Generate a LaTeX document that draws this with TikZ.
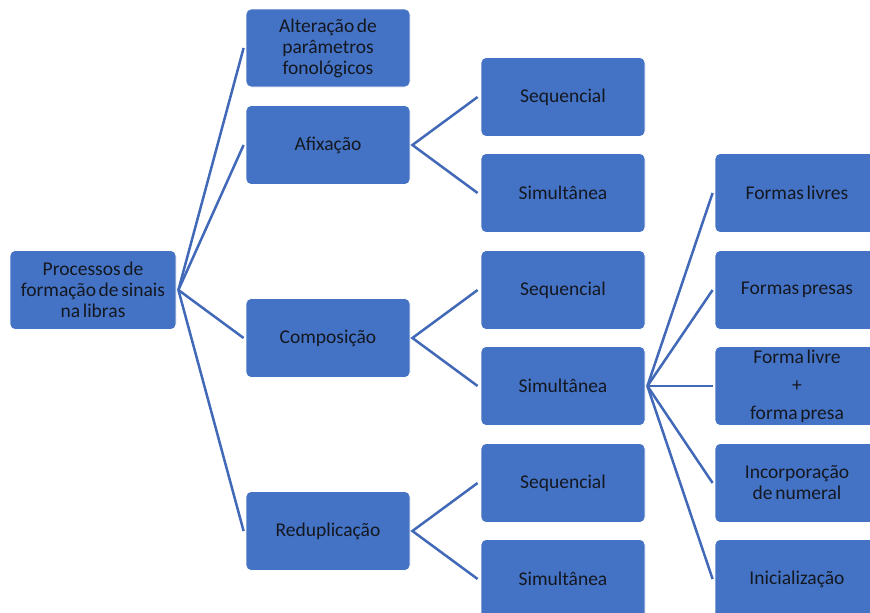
\documentclass[tikz,border=0pt]{standalone}
\usepackage{fontspec}
\setmainfont[WordSpace=0.6]{Carlito}
\definecolor{boxblue}{HTML}{4472C4}
\definecolor{lineblue}{HTML}{4169B8}
\definecolor{txt}{HTML}{141820}
\tikzset{
  box/.style={draw=white, line width=0.8pt, fill=boxblue, rounded corners=5pt,
    minimum width=164pt, minimum height=79pt, inner sep=2pt, align=flush center,
    text=txt, font=\fontsize{19.5}{21}\selectfont, text width=156pt},
  conn/.style={draw=lineblue, line width=2.5pt}
}
\begin{document}
\begin{tikzpicture}[x=1pt,y=-1pt]
\useasboundingbox (0,0) rectangle (870,613);
\clip (0,0) rectangle (870,613);
\fill[white] (0,0) rectangle (870,613);
% root
\node[box, minimum width=166pt, text width=158pt] (root) at (93,290) {Processos de\\formação de sinais\\na libras};
% level 1
\node[box, minimum height=78pt] (alt) at (328,48) {Alteração de\\parâmetros\\fonológicos};
\node[box] (afi) at (328,145) {Afixação};
\node[box] (comp) at (328,338) {Composição};
\node[box] (redup) at (328,531) {Reduplicação};
% level 2
\node[box] (seq1) at (563,97) {Sequencial};
\node[box] (sim1) at (563,193) {Simultânea};
\node[box] (seq2) at (563,290) {Sequencial};
\node[box] (sim2) at (563,386) {Simultânea};
\node[box] (seq3) at (563,483) {Sequencial};
\node[box] (sim3) at (563,579) {Simultânea};
% level 3
\node[box] (fl) at (797,193) {Formas livres};
\node[box] (fp) at (797,290) {Formas presas};
\node[box] (flp) at (797,386) {Forma livre\\[7pt]+\\[7pt]forma presa};
\node[box] (inc) at (797,483) {Incorporação\\de numeral};
\node[box] (ini) at (797,579) {Inicialização};
% connectors
\coordinate (r0) at ([xshift=2pt]root.east);
\foreach \t in {alt,afi,comp,redup} \draw[conn] (r0) -- ([xshift=-2pt]\t.west);
\coordinate (a0) at ([xshift=2pt]afi.east);
\draw[conn] ([xshift=-3pt]seq1.west) -- (a0) -- ([xshift=-3pt]sim1.west);
\coordinate (c0) at ([xshift=2pt]comp.east);
\draw[conn] ([xshift=-3pt]seq2.west) -- (c0) -- ([xshift=-3pt]sim2.west);
\coordinate (d0) at ([xshift=2pt]redup.east);
\draw[conn] ([xshift=-3pt]seq3.west) -- (d0) -- ([xshift=-3pt]sim3.west);
\coordinate (s0) at ([xshift=2pt]sim2.east);
\foreach \t in {fl,fp,flp,inc,ini} \draw[conn] (s0) -- ([xshift=-2pt]\t.west);
\end{tikzpicture}
\end{document}
